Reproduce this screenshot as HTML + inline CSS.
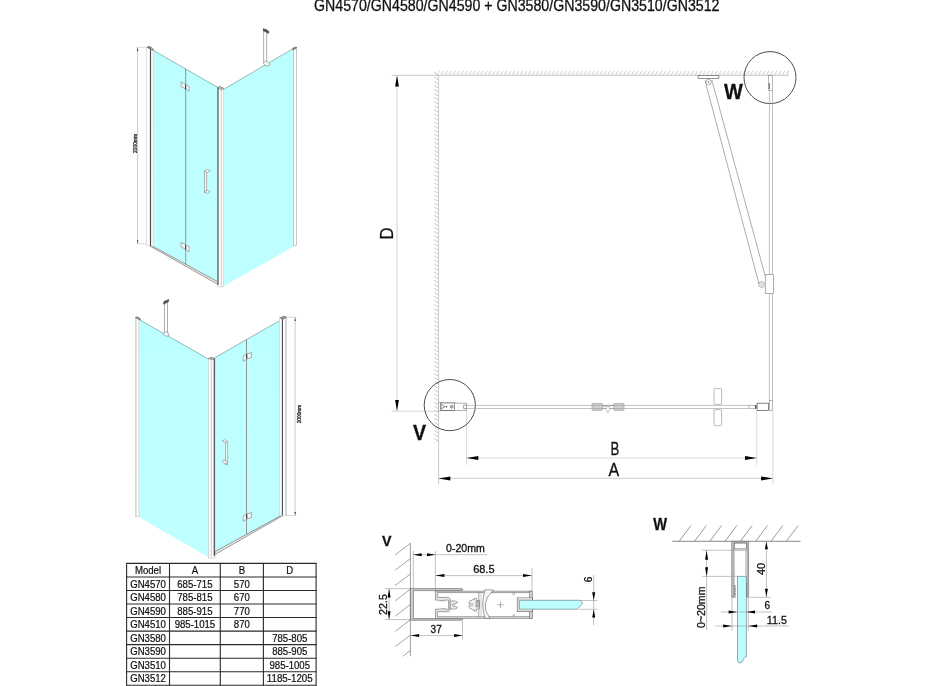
<!DOCTYPE html>
<html><head><meta charset="utf-8">
<style>
html,body{margin:0;padding:0;background:#fff;width:928px;height:686px;overflow:hidden}
svg{display:block;will-change:transform}
#tabletext text{stroke-width:0.22px}
text{font-family:"Liberation Sans",sans-serif;fill:#111;stroke:#111;stroke-width:0.3px;paint-order:stroke}
</style></head><body>
<svg width="928" height="686" viewBox="0 0 928 686">
<defs>
<pattern id="hh" x="0" y="71.0" width="3.97" height="4.3" patternUnits="userSpaceOnUse">
<line x1="-0.2" y1="4.5" x2="2.9" y2="-0.2" stroke="#b0b0b0" stroke-width="0.7"/>
</pattern>
<pattern id="hv" x="434.2" y="0" width="6" height="4.06" patternUnits="userSpaceOnUse">
<line x1="0" y1="0" x2="4.2" y2="2.65" stroke="#a8a8a8" stroke-width="0.75"/>
</pattern>
<linearGradient id="gl" x1="0" y1="0" x2="0" y2="1">
<stop offset="0" stop-color="#bdfefe"/><stop offset="1" stop-color="#bfffff"/>
</linearGradient>
</defs>

<!-- TITLE -->
<text x="314" y="11.4" font-size="16" textLength="405.5" lengthAdjust="spacingAndGlyphs">GN4570/GN4580/GN4590 + GN3580/GN3590/GN3510/GN3512</text>

<!-- ================= 3D VIEW 1 ================= -->
<g id="v1">
<!-- dimension -->
<line x1="137.6" y1="47.5" x2="137.6" y2="243.7" stroke="#bdbdbd" stroke-width="0.8"/>
<line x1="136.5" y1="47.3" x2="148.5" y2="47.3" stroke="#bdbdbd" stroke-width="0.6"/>
<line x1="136.5" y1="243.8" x2="146.5" y2="243.8" stroke="#bdbdbd" stroke-width="0.6"/>
<polygon points="137.6,47.5 136.9,51 138.3,51" fill="#333"/>
<polygon points="137.6,243.7 136.9,240.2 138.3,240.2" fill="#333"/>
<text transform="translate(137.2,153) rotate(-90)" font-size="5.4" textLength="19" lengthAdjust="spacingAndGlyphs" style="fill:#2a2a2a;stroke:#2a2a2a;stroke-width:0.3px">2000mm</text>
<!-- left glass (door) -->
<polygon points="153.4,50.4 218,87.6 218,281.6 153.4,246.4" fill="url(#gl)"/>
<line x1="153.4" y1="50.4" x2="218" y2="87.6" stroke="#6c9f9b" stroke-width="0.7"/>
<!-- bottom strip -->
<polygon points="150,246 153.4,246.6 217.6,281.6 217.6,284.2" fill="#ececec" stroke="#5a5a5a" stroke-width="0.6"/>
<!-- right glass (side panel) -->
<polygon points="223.8,89.2 293.5,48.4 293.5,246.6 223.8,286" fill="url(#gl)"/>
<line x1="223.8" y1="89.2" x2="293.5" y2="48.4" stroke="#6c9f9b" stroke-width="0.7"/>
<!-- fold line -->
<line x1="185.7" y1="68.6" x2="185.7" y2="264.3" stroke="#8a8a8a" stroke-width="0.9"/>
<!-- left wall profile -->
<path d="M146.3,47.3 H151 V245.4 H146.3 Z" fill="#fff" stroke="#c4c4c4" stroke-width="0.6"/>
<path d="M151,49.4 H153.2 V246.4 H151 Z" fill="#fff" stroke="#b4b4b4" stroke-width="0.5"/>
<line x1="150.45" y1="48.2" x2="150.45" y2="246" stroke="#4a4a4a" stroke-width="1.1"/>
<polygon points="147,47.4 148.8,46.2 151.6,47.6 150.2,48.8" fill="#8a8a8a" stroke="#444" stroke-width="0.5"/>
<polygon points="151.3,49.2 152.6,48.6 154,49.6 152.6,50.4" fill="#999" stroke="#555" stroke-width="0.4"/>
<!-- corner post -->
<rect x="217.4" y="87.6" width="6.2" height="199.4" fill="#fff" stroke="#bbb" stroke-width="0.5"/>
<line x1="218" y1="87.6" x2="218" y2="285" stroke="#666" stroke-width="1.4"/>
<line x1="221.3" y1="89" x2="221.3" y2="286.5" stroke="#bbb" stroke-width="0.8"/>
<polygon points="217.4,87.6 219.5,86.3 223.6,88.6 221.5,89.8" fill="#bbb" stroke="#555" stroke-width="0.5"/>
<!-- right post -->
<rect x="293.4" y="47.6" width="3.1" height="198" fill="#fff" stroke="#b0b0b0" stroke-width="0.7"/>
<polygon points="292.2,49.2 295.6,47 297,47.6 293.8,49.8" fill="#8a8a8a" stroke="#555" stroke-width="0.5"/>
<!-- support bar -->
<rect x="263.8" y="29.5" width="3" height="33" fill="#fff" stroke="#777" stroke-width="0.6"/>
<path d="M263.4,28.6 L268.8,31.2 L268.8,33.4 L263.4,30.8Z" fill="#555" stroke="#333" stroke-width="0.5"/>
<polygon points="263.6,62 266.5,61 269.8,63.2 269.8,65.2 266.6,66.2 263.6,64" fill="#f2f2f2" stroke="#777" stroke-width="0.5"/>
<!-- hinges -->
<g stroke="#666" stroke-width="0.5" fill="#f4f4f4">
<polygon points="181.1,81.9 185.5,84.2 185.5,88.9 181.1,86.6"/>
<polygon points="185.5,84.2 189.1,86.1 189.1,91.2 185.5,89.1"/>
<polygon points="181.1,242.3 185.5,244.6 185.5,249.3 181.1,247"/>
<polygon points="185.5,244.6 189.1,246.5 189.1,251.6 185.5,249.5"/>
</g>
<g stroke="#3a3a3a" stroke-width="1.1">
<line x1="185.6" y1="85" x2="185.6" y2="89.2"/>
<line x1="185.6" y1="245.4" x2="185.6" y2="249.6"/>
</g>
<!-- handle -->
<g stroke="#777" stroke-width="0.5" fill="#f6f6f6">
<rect x="204.6" y="171.2" width="2.2" height="21.4" />
<polygon points="204.3,171.2 206.9,169.3 210.4,170.6 207.6,172.6"/>
<polygon points="204.6,191.8 207.2,190.2 210.1,191.5 207.4,193.5"/>
</g>
</g>

<!-- ================= 3D VIEW 2 ================= -->
<g id="v2">
<!-- left side panel -->
<polygon points="139.1,319.5 209,359.3 209,557.5 139.1,517.2" fill="url(#gl)"/>
<line x1="139.1" y1="319.5" x2="209" y2="359.3" stroke="#6c9f9b" stroke-width="0.7"/>
<!-- door -->
<polygon points="215,357.6 279.4,320.8 279.4,516.4 215,551.6" fill="url(#gl)"/>
<line x1="215" y1="357.6" x2="279.4" y2="320.8" stroke="#6c9f9b" stroke-width="0.7"/>
<polygon points="215,551.6 279.4,516.4 282.8,515.6 215.4,554.2" fill="#ececec" stroke="#5a5a5a" stroke-width="0.6"/>
<line x1="246.5" y1="339.4" x2="246.5" y2="534.3" stroke="#8a8a8a" stroke-width="0.9"/>
<!-- left post -->
<rect x="135.3" y="317.4" width="3.6" height="199.4" fill="#fff" stroke="#c0c0c0" stroke-width="0.6"/>
<line x1="136.1" y1="318" x2="136.1" y2="516.6" stroke="#d6d6d6" stroke-width="1.2"/>
<polygon points="135.4,317.4 136.8,316.8 140.8,319 139.4,319.8" fill="#888" stroke="#555" stroke-width="0.5"/>
<!-- corner post -->
<rect x="208.6" y="358.3" width="6.4" height="199.7" fill="#fff" stroke="#bbb" stroke-width="0.5"/>
<line x1="214.3" y1="358.3" x2="214.3" y2="556" stroke="#555" stroke-width="1.3"/>
<line x1="211.2" y1="359.5" x2="211.2" y2="557.5" stroke="#bbb" stroke-width="0.8"/>
<polygon points="208.6,358.6 210.8,357.2 215,358.3 212.8,359.8" fill="#bbb" stroke="#555" stroke-width="0.5"/>
<!-- right wall profile -->
<rect x="279.5" y="317.2" width="7.1" height="198.6" fill="#fff" stroke="#c4c4c4" stroke-width="0.6"/>
<line x1="282.4" y1="318.5" x2="282.4" y2="515.4" stroke="#4a4a4a" stroke-width="1.1"/>
<line x1="285.8" y1="318" x2="285.8" y2="515" stroke="#d0d0d0" stroke-width="1.4"/>
<polygon points="280.1,318 283.5,316.2 286.6,317.2 283.5,319" fill="#999" stroke="#444" stroke-width="0.5"/>
<!-- dimension -->
<line x1="295.1" y1="317.5" x2="295.1" y2="515.4" stroke="#bdbdbd" stroke-width="0.8"/>
<line x1="285.9" y1="317.2" x2="296.1" y2="317.2" stroke="#bdbdbd" stroke-width="0.6"/>
<line x1="285.9" y1="515.4" x2="296.1" y2="515.4" stroke="#bdbdbd" stroke-width="0.6"/>
<polygon points="295.1,317.5 294.4,321 295.8,321" fill="#333"/>
<polygon points="295.1,515.4 294.4,511.9 295.8,511.9" fill="#333"/>
<text transform="translate(300.6,423.3) rotate(-90)" font-size="5.4" textLength="18.5" lengthAdjust="spacingAndGlyphs" style="fill:#2a2a2a;stroke:#2a2a2a;stroke-width:0.3px">2000mm</text>
<!-- support bar -->
<rect x="164.6" y="301" width="3" height="33" fill="#fff" stroke="#777" stroke-width="0.6"/>
<path d="M163.6,302 L168.6,299.4 L168.6,301.6 L163.6,304.2Z" fill="#555" stroke="#333" stroke-width="0.5"/>
<polygon points="163.2,333 166,331.6 169,333.4 169,335.4 166.2,336.4 163.2,334.8" fill="#f2f2f2" stroke="#777" stroke-width="0.5"/>
<!-- hinges -->
<g stroke="#666" stroke-width="0.5" fill="#f4f4f4">
<polygon points="243.2,356 247,354 247,359 243.2,361.2"/>
<polygon points="247,354 251.4,352.5 251.4,357.5 247,359"/>
<polygon points="243.2,516 247,514 247,519 243.2,521.2"/>
<polygon points="247,514 251.4,512.5 251.4,517.5 247,519"/>
</g>
<g stroke="#3a3a3a" stroke-width="1.1">
<line x1="246.6" y1="354.6" x2="246.6" y2="358.6"/>
<line x1="246.6" y1="514.6" x2="246.6" y2="518.6"/>
</g>
<!-- handle -->
<g stroke="#777" stroke-width="0.5" fill="#f6f6f6">
<rect x="225.5" y="441.8" width="2.3" height="22.4" />
<polygon points="222,440.6 224.6,439.8 227.8,441.6 225.2,442.8"/>
<polygon points="222,461.2 224.5,460 227.6,462.6 224.6,463.9"/>
</g>
</g>

<g id="plan">
<!-- hatch regions -->
<rect x="438.6" y="71.0" width="350.4" height="4.3" fill="url(#hh)"/>
<rect x="434.2" y="75.5" width="4.2" height="367.5" fill="url(#hv)"/>
<!-- ceiling and wall lines -->
<line x1="391.5" y1="75.3" x2="789" y2="75.3" stroke="#c4c4c4" stroke-width="0.9"/>
<line x1="438.6" y1="75.3" x2="438.6" y2="484" stroke="#c4c4c4" stroke-width="0.9"/>
<line x1="434.4" y1="72.2" x2="438.6" y2="75.3" stroke="#a0a0a0" stroke-width="0.7"/>
<!-- D dimension -->
<line x1="397" y1="76" x2="397" y2="411" stroke="#d4d4d4" stroke-width="1.1"/>
<line x1="391.3" y1="411.2" x2="438.6" y2="411.2" stroke="#d4d4d4" stroke-width="0.9"/>
<polygon points="397,75.6 395.1,86.6 398.9,86.6" fill="#000"/>
<polygon points="397,411 395.1,400 398.9,400" fill="#000"/>
<text transform="translate(392.9,239.4) rotate(-90)" font-size="18" textLength="12" lengthAdjust="spacingAndGlyphs">D</text>
<!-- B / A dims -->
<line x1="466.6" y1="410.6" x2="466.6" y2="465" stroke="#d4d4d4" stroke-width="0.9"/>
<line x1="756.8" y1="410.6" x2="756.8" y2="465" stroke="#d4d4d4" stroke-width="0.9"/>
<line x1="772.9" y1="410.6" x2="772.9" y2="484" stroke="#d4d4d4" stroke-width="0.9"/>
<line x1="466.6" y1="458" x2="756.8" y2="458" stroke="#d8d8d8" stroke-width="1.2"/>
<line x1="438.6" y1="478.4" x2="772.9" y2="478.4" stroke="#d8d8d8" stroke-width="1.2"/>
<polygon points="466.6,458 478.3,456 478.3,460" fill="#000"/>
<polygon points="756.8,458 745,456 745,460" fill="#000"/>
<polygon points="438.6,478.4 450.3,476.4 450.3,480.4" fill="#000"/>
<polygon points="772.9,478.4 761.1,476.4 761.1,480.4" fill="#000"/>
<text x="610.5" y="454.7" font-size="18" textLength="8.8" lengthAdjust="spacingAndGlyphs">B</text>
<text x="608.6" y="475.9" font-size="18" textLength="10.7" lengthAdjust="spacingAndGlyphs">A</text>
<!-- circles -->
<circle cx="770" cy="77.6" r="26" fill="none" stroke="#3a3a3a" stroke-width="0.9"/>
<circle cx="449.8" cy="405.1" r="25.6" fill="none" stroke="#3a3a3a" stroke-width="0.9"/>
<text x="724" y="99.4" font-size="22" font-weight="bold" textLength="18.8" lengthAdjust="spacingAndGlyphs" fill="#000">W</text>
<text x="412.9" y="440.1" font-size="21.5" font-weight="bold" textLength="13.1" lengthAdjust="spacingAndGlyphs" fill="#000">V</text>
<!-- arm -->
<g stroke="#8a8a8a" stroke-width="0.7" fill="none">
<line x1="705" y1="80.5" x2="759" y2="284"/>
<line x1="711.8" y1="80" x2="765.2" y2="276"/>
</g>
<rect x="698.1" y="75.6" width="20.8" height="2.9" fill="#fff" stroke="#666" stroke-width="0.7"/>
<circle cx="708.5" cy="82.1" r="2.7" fill="#fff" stroke="#777" stroke-width="0.6"/>
<circle cx="708.5" cy="82.1" r="0.8" fill="#777"/>
<circle cx="761.6" cy="284.5" r="2.8" fill="#fff" stroke="#777" stroke-width="0.6"/>
<circle cx="761.6" cy="284.5" r="1" fill="none" stroke="#777" stroke-width="0.4"/>
<!-- vertical glass (right) -->
<line x1="769.4" y1="90" x2="769.4" y2="401" stroke="#a8a8a8" stroke-width="0.7"/>
<line x1="772.5" y1="90" x2="772.5" y2="401" stroke="#a8a8a8" stroke-width="0.7"/>
<rect x="768.4" y="75.6" width="4" height="15" fill="#fff" stroke="#888" stroke-width="0.6"/>
<line x1="769.3" y1="83" x2="769.3" y2="89" stroke="#555" stroke-width="0.9"/>
<rect x="765.2" y="274.7" width="8.2" height="18.7" fill="#fff" stroke="#777" stroke-width="0.6"/>
<rect x="769.6" y="400.6" width="3.1" height="10" fill="#fff" stroke="#888" stroke-width="0.6"/>
<!-- horizontal glass -->
<line x1="466.6" y1="405.4" x2="749" y2="405.4" stroke="#aaa" stroke-width="0.7"/>
<line x1="466.6" y1="408.5" x2="749" y2="408.5" stroke="#aaa" stroke-width="0.7"/>
<!-- left profile -->
<rect x="438.7" y="402.6" width="2.1" height="8.4" fill="#fff" stroke="#888" stroke-width="0.5"/>
<rect x="441" y="402.9" width="13.4" height="7.7" fill="#fff" stroke="#4a4a4a" stroke-width="0.75"/>
<rect x="454.4" y="403.1" width="12.3" height="7.5" fill="#fff" stroke="#777" stroke-width="0.6"/>
<path d="M441.4,404.6 L445,406.7 L441.4,408.8" fill="none" stroke="#444" stroke-width="0.6"/>
<circle cx="446.5" cy="406.8" r="0.75" fill="#333"/>
<circle cx="451.7" cy="406.8" r="1.5" fill="#bbb" stroke="#555" stroke-width="0.5"/>
<path d="M466.7,405.1 H463.6 V408.5 H466.7" fill="none" stroke="#666" stroke-width="0.6"/>
<circle cx="458.6" cy="406.8" r="0.35" fill="#888"/>
<!-- hinge -->
<rect x="592" y="403.5" width="10.7" height="6.9" rx="1" fill="#d2d2d2" stroke="#8a8a8a" stroke-width="0.5"/>
<rect x="613.7" y="403.5" width="10.3" height="6.9" rx="1" fill="#d2d2d2" stroke="#8a8a8a" stroke-width="0.5"/>
<line x1="592" y1="405.4" x2="624" y2="405.4" stroke="#9a9a9a" stroke-width="0.6"/>
<line x1="592" y1="408.5" x2="624" y2="408.5" stroke="#9a9a9a" stroke-width="0.6"/>
<path d="M602.7,406.3 Q606,405.6 608,406.6 Q610.5,405.3 613.7,405.6" fill="none" stroke="#777" stroke-width="0.6"/>
<path d="M606.3,406.8 Q605.6,410.8 607.8,413 Q610,411.6 609.6,407" fill="#fff" stroke="#888" stroke-width="0.5"/>
<!-- handle -->
<rect x="714" y="388.4" width="7.6" height="16" rx="1" fill="#fff" stroke="#888" stroke-width="0.6"/>
<rect x="714" y="409.6" width="7.6" height="16" rx="1" fill="#fff" stroke="#888" stroke-width="0.6"/>
<!-- right clamp -->
<rect x="749" y="405.2" width="7.6" height="3.4" fill="#fff" stroke="#777" stroke-width="0.5"/>
<line x1="755.6" y1="405" x2="755.6" y2="408.8" stroke="#333" stroke-width="1"/>
<rect x="757.1" y="403.2" width="11.5" height="7.4" fill="#fff" stroke="#555" stroke-width="0.7"/>
</g>

<g id="detailV">
<text x="381.9" y="546" font-size="15.2" font-weight="bold" textLength="9.5" lengthAdjust="spacingAndGlyphs" fill="#000">V</text>
<!-- wall + hatch -->
<line x1="410.4" y1="543.3" x2="410.4" y2="656.3" stroke="#888" stroke-width="0.8"/>
<g stroke="#666" stroke-width="0.6">
<line x1="410.4" y1="543.3" x2="395.2" y2="554.9"/>
<line x1="410.4" y1="558.6" x2="395.2" y2="570.2"/>
<line x1="410.4" y1="573.9" x2="395.2" y2="585.5"/>
<line x1="410.4" y1="589.2" x2="395.2" y2="600.8"/>
<line x1="410.4" y1="604.5" x2="395.2" y2="616.1"/>
<line x1="410.4" y1="619.8" x2="395.2" y2="631.4"/>
<line x1="410.4" y1="635.1" x2="395.2" y2="646.7"/>
<line x1="410.4" y1="650.4" x2="402.6" y2="656.3"/>
</g>
<!-- dims -->
<g stroke="#999" stroke-width="0.6">
<line x1="413.3" y1="551" x2="413.3" y2="588.8"/>
<line x1="435.4" y1="551" x2="435.4" y2="591.4"/>
<line x1="413.3" y1="554.7" x2="487" y2="554.7"/>
<line x1="435.4" y1="575.6" x2="532" y2="575.6"/>
<line x1="532" y1="568" x2="532" y2="590.6"/>
<line x1="384.9" y1="588.7" x2="410.4" y2="588.7"/>
<line x1="384.9" y1="619.6" x2="410.4" y2="619.6"/>
<line x1="389.1" y1="588.7" x2="389.1" y2="619.6"/>
<line x1="410.4" y1="635.6" x2="462.5" y2="635.6"/>
<line x1="462.5" y1="621" x2="462.5" y2="639.5"/>
</g>
<g fill="#000">
<polygon points="413.3,554.7 421.7,553.2 421.7,556.2"/>
<polygon points="435.4,554.7 427,553.2 427,556.2"/>
<polygon points="435.4,575.6 444.4,574.1 444.4,577.1"/>
<polygon points="532,575.6 523,574.1 523,577.1"/>
<polygon points="389.1,588.8 387.6,597.4 390.6,597.4"/>
<polygon points="389.1,619.5 387.6,611.2 390.6,611.2"/>
<polygon points="410.6,635.6 419.1,634.1 419.1,637.1"/>
<polygon points="462.5,635.6 454.1,634.1 454.1,637.1"/>
</g>
<text x="446" y="552.3" font-size="10" textLength="38.8" lengthAdjust="spacingAndGlyphs">0-20mm</text>
<text x="473.2" y="573.3" font-size="10" textLength="21.3" lengthAdjust="spacingAndGlyphs">68.5</text>
<text x="430.6" y="633.3" font-size="11" textLength="11.2" lengthAdjust="spacingAndGlyphs">37</text>
<text transform="translate(387.1,614.9) rotate(-90)" font-size="11" textLength="20.7" lengthAdjust="spacingAndGlyphs">22.5</text>
<!-- wall U channel -->
<path d="M410.4,588.6 H461.8 a1,1 0 0 1 0,2 H413.4 V618.6 H461.8 a0.8,0.8 0 0 1 0,1.6 H410.4 Z" fill="#cfcfcf" stroke="#555" stroke-width="0.6"/>
<!-- sliding profile -->
<path d="M532,591.2 H435.4 V600.1 H437.6 q1.1,2 2.2,0 q1.1,2 2.2,0 q1.1,2 2.2,0 q1.1,2 2.2,0 H448.6 V609.3 H446.2 q-1.1,-2 -2.2,0 q-1.1,-2 -2.2,0 q-1.1,-2 -2.2,0 q-1.1,-2 -2.2,0 H435.4 V618.4 H532 V616.7 H437.4 V611.7 H448.6 L450.3,610 V599.1 L448.6,597.4 H437.4 V592.6 H532 Z" fill="#e6e6e6" stroke="#555" stroke-width="0.55"/>
<path d="M450.3,601.5 L452.5,600.8 Q455,600.6 457,601.8 L457.5,602.8 L455.6,603.5 Q453.6,602.6 452.6,604 Q452.2,605 452.6,606 Q453.6,607.4 455.6,606.5 L457.5,607.2 L457,608.2 Q455,609.4 452.5,609.2 L450.3,608.5 Z" fill="#f0f0f0" stroke="#555" stroke-width="0.5"/>
<circle cx="454.4" cy="605" r="1.2" fill="#ccc"/>
<!-- door profile -->
<path d="M478.8,592.5 V617" stroke="#777" stroke-width="0.7"/>
<path d="M481,592.5 V617" stroke="#999" stroke-width="0.5"/>
<path d="M485.1,589.7 Q480.3,604 485.1,618.4 L490,618.4 Q478.5,604 493.5,590 Z" fill="#f4f4f4" stroke="#555" stroke-width="0.55"/>
<path d="M469.2,603.8 Q468.4,601 470.6,600.4 L471.5,600.8 L472.4,599.6 L474.2,599.6 L474.2,598.3 L476.4,598.3 L476.4,600.4 L479.4,600.4 L479.4,609 L476.4,609 L476.4,611.2 L474.2,611.2 L474.2,609.8 L472.4,609.8 L471.5,608.6 L470.6,609 Q468.4,608.4 469.2,605.6 Q470.4,604.7 469.2,603.8 Z" fill="#f2f2f2" stroke="#555" stroke-width="0.5"/>
<circle cx="471.4" cy="604.7" r="1.3" fill="none" stroke="#666" stroke-width="0.45"/>
<rect x="476" y="601" width="3.5" height="6" fill="#bbb" stroke="#666" stroke-width="0.4"/>
<path d="M500.5,601.6 V608 M497.3,604.8 H503.7" stroke="#666" stroke-width="0.5"/>
<path d="M512.6,592.6 l1.2,2.6 l1.2,-2.6 M512.6,616.7 l1.2,-2.6 l1.2,2.6" fill="none" stroke="#777" stroke-width="0.5"/>
<!-- glass holder -->
<rect x="529.6" y="591.1" width="2.7" height="27.5" fill="#d0d0d0" stroke="#555" stroke-width="0.5"/>
<rect x="517.2" y="597.9" width="15.1" height="13.8" fill="#fff" stroke="#555" stroke-width="0.6"/>
<rect x="518.5" y="599.2" width="12.5" height="11.2" fill="#fff" stroke="#aaa" stroke-width="0.4"/>
<!-- glass -->
<path d="M519.4,600.3 H580.7 L582.6,603.3 L577.6,609.2 H519.4 Z" fill="#bdffff" stroke="#6a7878" stroke-width="0.65"/>
<!-- 6 dim -->
<g stroke="#999" stroke-width="0.6">
<line x1="593.7" y1="574.8" x2="593.7" y2="625.6"/>
<line x1="580.7" y1="600.5" x2="597.4" y2="600.5"/>
<line x1="579.5" y1="609.3" x2="597.4" y2="609.3"/>
</g>
<polygon points="593.7,600.4 592.2,592.2 595.2,592.2" fill="#000"/>
<polygon points="593.7,609.4 592.2,617.6 595.2,617.6" fill="#000"/>
<text transform="translate(591.6,582.3) rotate(-90)" font-size="10.5" textLength="5.6" lengthAdjust="spacingAndGlyphs">6</text>
</g>

<g id="detailW">
<text x="653.2" y="529.8" font-size="15.7" font-weight="bold" textLength="13.8" lengthAdjust="spacingAndGlyphs" fill="#000">W</text>
<line x1="672.2" y1="541.3" x2="800.5" y2="541.3" stroke="#555" stroke-width="0.7"/>
<g stroke="#555" stroke-width="0.6">
<line x1="679.2" y1="541.3" x2="691" y2="525.5"/>
<line x1="694.5" y1="541.3" x2="706.3" y2="525.5"/>
<line x1="709.8" y1="541.3" x2="721.6" y2="525.5"/>
<line x1="725.1" y1="541.3" x2="736.9" y2="525.5"/>
<line x1="740.4" y1="541.3" x2="752.2" y2="525.5"/>
<line x1="755.7" y1="541.3" x2="767.5" y2="525.5"/>
<line x1="771" y1="541.3" x2="782.8" y2="525.5"/>
<line x1="786.3" y1="541.3" x2="798.1" y2="525.5"/>
</g>
<!-- profile -->
<path d="M731.7,541.3 H748.6 V597.3 H747 V542.8 H733.3 V597.3 H731.7 Z" fill="#d0d0d0" stroke="#5a5a5a" stroke-width="0.55"/>
<rect x="734.3" y="543.1" width="12.2" height="5.8" fill="#fff" stroke="#555" stroke-width="0.6"/>
<line x1="733.3" y1="550.2" x2="747" y2="550.2" stroke="#666" stroke-width="0.55"/>
<line x1="734.5" y1="550.2" x2="734.5" y2="597" stroke="#999" stroke-width="0.5"/>
<line x1="745.6" y1="550.2" x2="745.6" y2="583" stroke="#999" stroke-width="0.5"/>
<line x1="746.4" y1="583" x2="746.4" y2="597" stroke="#333" stroke-width="0.8"/>
<!-- glass -->
<path d="M737.5,576.4 H746.4 V656.8 Q744.5,657 743.6,658.8 Q742.4,662.9 740.3,662.9 Q737.5,662.7 737.5,660.6 Z" fill="#bdffff" stroke="#6a7878" stroke-width="0.65"/>
<!-- gasket scribble -->
<text transform="translate(735.9,598) rotate(-90)" font-size="3.6" style="fill:#444;stroke:none" textLength="12.5" lengthAdjust="spacingAndGlyphs">Gasket</text>
<!-- dims -->
<g stroke="#999" stroke-width="0.6">
<line x1="702.3" y1="550.2" x2="733.3" y2="550.2"/>
<line x1="702.3" y1="576.4" x2="737.4" y2="576.4"/>
<line x1="706.6" y1="550.2" x2="706.6" y2="630.2"/>
<line x1="766.4" y1="541.3" x2="766.4" y2="597.3"/>
<line x1="749.6" y1="597.3" x2="771" y2="597.3"/>
<line x1="720.9" y1="612" x2="771.9" y2="612"/>
<line x1="715.5" y1="626" x2="788.9" y2="626"/>
<line x1="732" y1="598" x2="732" y2="631"/>
<line x1="748.4" y1="598" x2="748.4" y2="631"/>
</g>
<g fill="#000">
<polygon points="706.6,550.5 705.1,559.7 708.1,559.7"/>
<polygon points="706.6,576.4 705.1,567.3 708.1,567.3"/>
<polygon points="766.4,541.5 764.9,549.2 767.9,549.2"/>
<polygon points="766.4,597 764.9,588.7 767.9,588.7"/>
<polygon points="737.2,612 728.6,610.5 728.6,613.5"/>
<polygon points="746.5,612 755,610.5 755,613.5"/>
<polygon points="732,626 723.2,624.5 723.2,627.5"/>
<polygon points="748.4,626 757.2,624.5 757.2,627.5"/>
</g>
<text transform="translate(704.6,628) rotate(-90)" font-size="11" textLength="41.5" lengthAdjust="spacingAndGlyphs">0~20mm</text>
<text transform="translate(764.9,575) rotate(-90)" font-size="11.5" textLength="12.2" lengthAdjust="spacingAndGlyphs">40</text>
<text x="764.5" y="609.4" font-size="10" textLength="5.6" lengthAdjust="spacingAndGlyphs">6</text>
<text x="766.8" y="624" font-size="10.5" textLength="20.1" lengthAdjust="spacingAndGlyphs">11.5</text>
</g>

<g id="table" stroke="#2a2a2a" stroke-width="1.1" fill="none">
<line x1="126.1" y1="563.40" x2="316.6" y2="563.40"/>
<line x1="126.1" y1="576.94" x2="316.6" y2="576.94"/>
<line x1="126.1" y1="590.48" x2="316.6" y2="590.48"/>
<line x1="126.1" y1="604.02" x2="316.6" y2="604.02"/>
<line x1="126.1" y1="617.56" x2="316.6" y2="617.56"/>
<line x1="126.1" y1="631.10" x2="316.6" y2="631.10"/>
<line x1="126.1" y1="644.64" x2="316.6" y2="644.64"/>
<line x1="126.1" y1="658.18" x2="316.6" y2="658.18"/>
<line x1="126.1" y1="671.72" x2="316.6" y2="671.72"/>
<line x1="126.1" y1="685.26" x2="316.6" y2="685.26"/>
<line x1="126.6" y1="563.4" x2="126.6" y2="685.86"/>
<line x1="169.5" y1="563.4" x2="169.5" y2="685.86"/>
<line x1="220.3" y1="563.4" x2="220.3" y2="685.86"/>
<line x1="263.4" y1="563.4" x2="263.4" y2="685.86"/>
<line x1="316.1" y1="563.4" x2="316.1" y2="685.86"/>
</g>
<g id="tabletext" font-size="10">
<text x="134.98" y="574.14" textLength="26.13" lengthAdjust="spacingAndGlyphs">Model</text>
<text x="191.70" y="574.14" textLength="6.40" lengthAdjust="spacingAndGlyphs">A</text>
<text x="238.65" y="574.14" textLength="6.40" lengthAdjust="spacingAndGlyphs">B</text>
<text x="286.29" y="574.14" textLength="6.93" lengthAdjust="spacingAndGlyphs">D</text>
<text x="130.18" y="587.68" textLength="35.74" lengthAdjust="spacingAndGlyphs">GN4570</text>
<text x="177.29" y="587.68" textLength="35.21" lengthAdjust="spacingAndGlyphs">685-715</text>
<text x="233.85" y="587.68" textLength="16.01" lengthAdjust="spacingAndGlyphs">570</text>
<text x="130.18" y="601.22" textLength="35.74" lengthAdjust="spacingAndGlyphs">GN4580</text>
<text x="177.29" y="601.22" textLength="35.21" lengthAdjust="spacingAndGlyphs">785-815</text>
<text x="233.85" y="601.22" textLength="16.01" lengthAdjust="spacingAndGlyphs">670</text>
<text x="130.18" y="614.76" textLength="35.74" lengthAdjust="spacingAndGlyphs">GN4590</text>
<text x="177.29" y="614.76" textLength="35.21" lengthAdjust="spacingAndGlyphs">885-915</text>
<text x="233.85" y="614.76" textLength="16.01" lengthAdjust="spacingAndGlyphs">770</text>
<text x="130.18" y="628.30" textLength="35.74" lengthAdjust="spacingAndGlyphs">GN4510</text>
<text x="174.63" y="628.30" textLength="40.55" lengthAdjust="spacingAndGlyphs">985-1015</text>
<text x="233.85" y="628.30" textLength="16.01" lengthAdjust="spacingAndGlyphs">870</text>
<text x="130.18" y="641.84" textLength="35.74" lengthAdjust="spacingAndGlyphs">GN3580</text>
<text x="272.14" y="641.84" textLength="35.21" lengthAdjust="spacingAndGlyphs">785-805</text>
<text x="130.18" y="655.38" textLength="35.74" lengthAdjust="spacingAndGlyphs">GN3590</text>
<text x="272.14" y="655.38" textLength="35.21" lengthAdjust="spacingAndGlyphs">885-905</text>
<text x="130.18" y="668.92" textLength="35.74" lengthAdjust="spacingAndGlyphs">GN3510</text>
<text x="269.48" y="668.92" textLength="40.55" lengthAdjust="spacingAndGlyphs">985-1005</text>
<text x="130.18" y="682.46" textLength="35.74" lengthAdjust="spacingAndGlyphs">GN3512</text>
<text x="266.81" y="682.46" textLength="45.89" lengthAdjust="spacingAndGlyphs">1185-1205</text>
</g>
</svg>
</body></html>
